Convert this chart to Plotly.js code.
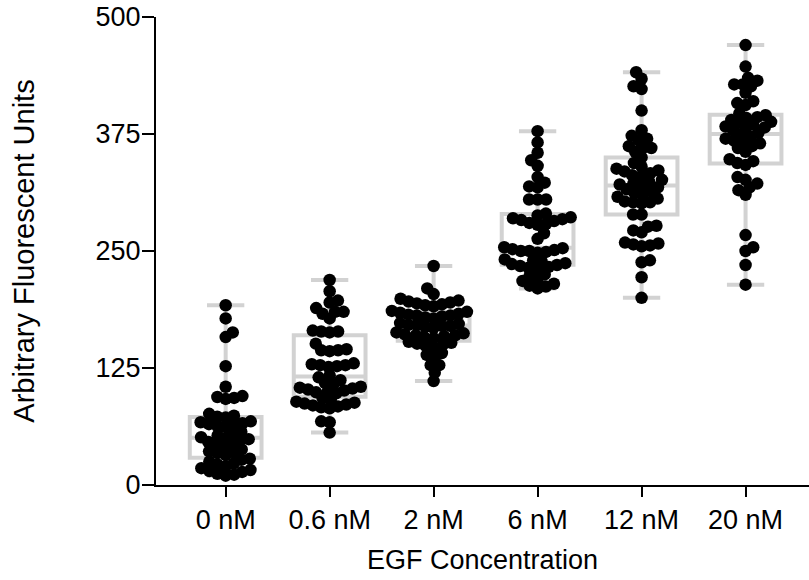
<!DOCTYPE html>
<html>
<head>
<meta charset="utf-8">
<script src="https://cdn.plot.ly/plotly-3.0.1.min.js"></script>
<style>html,body{margin:0;padding:0;background:#fff}#chart{width:809px;height:580px}</style>
</head>
<body>
<div id="chart"></div>
<script>
// ---- data ----
const categories = ["0 nM", "0.6 nM", "2 nM", "6 nM", "12 nM", "20 nM"];
const yTicks = [0, 125, 250, 375, 500];

const egf0 = [192,178,163,158,127,105,95,94,93,92,76,74,73,72,68,66,64,62,67,63,65,57,50,53,48,55,46,51,49,41,36,43,34,38,44,32,35,27,22,28,20,25,18,23,15,10,12,16,11,14];
const egf06 = [219,207,197,195,189,185,185,183,178,164,164,163,165,151,144,144,145,143,128,129,127,128,130,126,117,115,112,109,107,105,103,101,99,98,100,102,104,93,91,89,87,85,83,82,84,86,88,68,67,56];
const egf2 = [234,210,204,199,196,194,192,195,197,191,193,186,183,181,180,182,179,184,181,178,185,172,170,171,169,173,168,171,170,163,160,159,162,158,161,160,157,153,152,149,151,150,147,141,139,136,128,128,120,111];
const egf6 = [378,366,355,347,341,329,323,319,318,305,305,305,290,288,286,284,282,279,278,280,283,285,269,263,254,252,250,249,253,248,251,250,241,239,236,234,232,233,235,237,240,231,225,223,220,218,215,213,212,210];
const egf12 = [441,434,426,423,400,379,373,370,368,362,360,360,356,350,344,340,338,336,335,333,331,330,326,324,322,321,320,318,316,314,312,310,308,306,302,302,301,303,289,289,277,276,272,270,259,257,255,256,258,240,238,222,200];
const egf20 = [470,447,435,432,428,428,426,419,410,408,406,397,395,393,392,390,388,387,385,383,382,381,379,376,374,372,370,368,366,365,362,360,356,348,346,344,342,329,326,322,318,315,310,267,254,250,235,214];

const groups = [egf0, egf06, egf2, egf6, egf12, egf20];

// ---- layout constants ----
const W = 809, H = 580;
const M = {l: 156, r: 0, t: 17, b: 95};
const xRange = [-0.67, 5.61];
const yRange = [0, 500];
const markerSize = 12.5;
const swarmDist = 8.5;

// ---- statistics ----
function quantile(sorted, p) {
  const pos = (sorted.length - 1) * p;
  const lo = Math.floor(pos), hi = Math.ceil(pos);
  return sorted[lo] + (sorted[hi] - sorted[lo]) * (pos - lo);
}
const stats = groups.map(g => {
  const s = g.slice().sort((a, b) => a - b);
  return {min: s[0], max: s[s.length - 1], q1: quantile(s, 0.25), med: quantile(s, 0.5), q3: quantile(s, 0.75)};
});

// ---- beeswarm offsets (pixel space -> data units) ----
const sx = (W - M.l - M.r) / (xRange[1] - xRange[0]);
const sy = (H - M.t - M.b) / (yRange[1] - yRange[0]);
function swarm(vals, d) {
  const order = vals.map((v, i) => i).sort((a, b) => vals[a] - vals[b]);
  const placed = [];
  const offs = new Array(vals.length);
  let flip = 1;
  for (const i of order) {
    const y = vals[i] * sy;
    const cands = [0];
    for (const p of placed) {
      const dy = Math.abs(p.y - y);
      if (dy < d) {
        const dx = Math.sqrt(d * d - dy * dy);
        cands.push(p.x + dx, p.x - dx);
      }
    }
    cands.sort((a, b) => Math.abs(a) - Math.abs(b) || (a - b) * flip);
    let chosen = 0;
    for (const c of cands) {
      if (placed.every(p => (p.x - c) ** 2 + (p.y - y) ** 2 >= d * d - 1e-6)) { chosen = c; break; }
    }
    flip = -flip;
    placed.push({x: chosen, y: y});
    offs[i] = chosen / sx;
  }
  return offs;
}

const boxColor = "#d2d2d2";
const traces = [];
traces.push({
  type: "box",
  x: categories.map((c, i) => i),
  q1: stats.map(s => s.q1),
  median: stats.map(s => s.med),
  q3: stats.map(s => s.q3),
  lowerfence: stats.map(s => s.min),
  upperfence: stats.map(s => s.max),
  boxpoints: false,
  width: 0.69,
  whiskerwidth: 0.52,
  fillcolor: "rgba(0,0,0,0)",
  line: {color: boxColor, width: 4},
  hoverinfo: "skip",
  showlegend: false
});

const px = [], py = [];
groups.forEach((g, i) => {
  const offs = swarm(g, swarmDist);
  g.forEach((v, j) => { px.push(i + offs[j]); py.push(v); });
});
traces.push({
  type: "scatter",
  mode: "markers",
  x: px,
  y: py,
  marker: {color: "#000", size: markerSize, line: {width: 0}},
  showlegend: false
});

const font = {family: "Liberation Sans, Arial, sans-serif", color: "#000", size: 27};
const layout = {
  width: W, height: H,
  margin: M,
  paper_bgcolor: "#fff",
  plot_bgcolor: "#fff",
  showlegend: false,
  font: font,
  xaxis: {
    range: xRange,
    tickvals: categories.map((c, i) => i),
    ticktext: categories,
    showgrid: false, zeroline: false,
    showline: true, linecolor: "#000", linewidth: 2,
    ticks: "outside", ticklen: 10, tickwidth: 2, tickcolor: "#000",
    tickfont: {size: 27},
    title: {text: "EGF Concentration", font: {size: 27}, standoff: 16},
    automargin: false, fixedrange: true
  },
  yaxis: {
    range: yRange,
    tickvals: yTicks,
    ticktext: yTicks.map(String),
    showgrid: false, zeroline: false,
    showline: true, linecolor: "#000", linewidth: 2,
    ticks: "outside", ticklen: 12, tickwidth: 2, tickcolor: "#000",
    tickfont: {size: 27},
    ticklabelstandoff: -4,
    title: {text: "Arbitrary Fluorescent Units", font: {size: 29}, standoff: 52},
    automargin: false, fixedrange: true
  }
};

Plotly.newPlot("chart", traces, layout, {displayModeBar: false, staticPlot: true});
</script>
</body>
</html>
